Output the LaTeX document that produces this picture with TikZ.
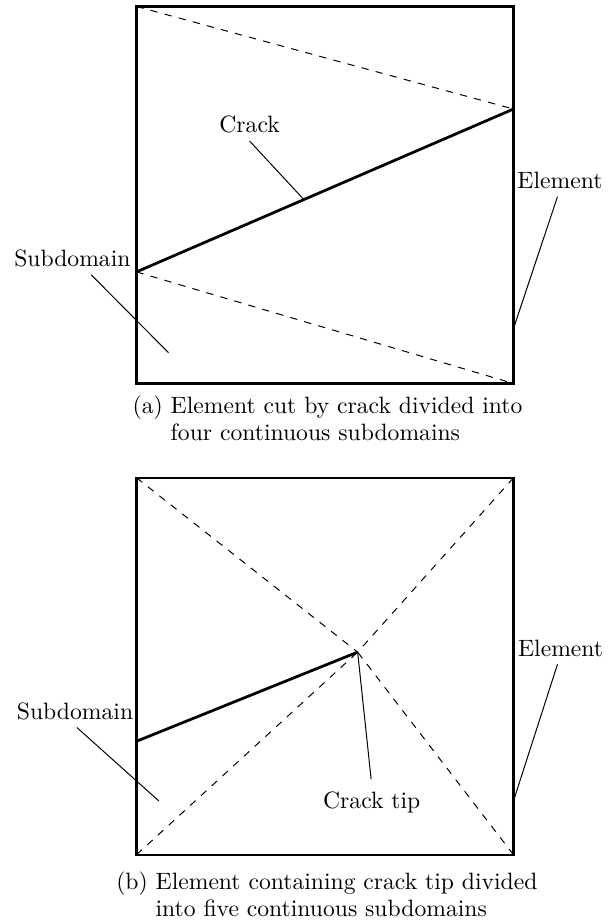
\documentclass[tikz,border=0pt]{standalone}
\usepackage{amsmath,amssymb}
\usepackage{tikz}
\usetikzlibrary{positioning, calc}

\begin{document}
\begin{tikzpicture}[font=\fontsize{10.7}{12.1}\selectfont, elemline/.style={line width=1.05pt}, crackline/.style={line width=1.25pt}, cutline/.style={dash pattern=on 3.3pt off 3.3pt, line width=0.45pt}, leader/.style={line width=0.45pt}]
    \useasboundingbox (-2.172,-8.57) rectangle (7.584,6.103);

    % (a) element cut by the crack
    \coordinate (a1) at (0,0);
    \coordinate (a2) at (6,0);
    \coordinate (a3) at (6,6);
    \coordinate (a4) at (0,6);
    \coordinate (cl) at (0,1.776);
    \coordinate (cr) at (6,4.368);
    \draw [cutline] (a4) -- (cr);
    \draw [cutline] (cl) -- (a2);
    \draw [crackline] (cl) -- (cr);
    \draw [elemline] (a1) -- (a2) -- (a3) -- (a4) -- cycle;

    \node (crackA) at (1.80,4.12) {Crack};
    \node (subA) at (-1.02,1.99) {Subdomain};
    \node (elemA) at (6.74,3.23) {Element};
    \coordinate (subAend) at (0.51,0.49);
    \coordinate (elemAend) at (6,0.876);
    \draw [leader] (crackA.south) -- ($(cl)!0.444!(cr)$);
    \draw [leader] ([xshift=0.3cm]subA.south) -- (subAend);
    \draw [leader] ([xshift=-0.04cm]elemA.south) -- (elemAend);

    \node (capA) [align=left] at (3.04,-0.557) {(a) Element cut by crack divided into\\\hphantom{(a)\ }four continuous subdomains};

    % (b) element containing the crack tip
    \coordinate (b1) at (0,-7.5);
    \coordinate (b2) at (6,-7.5);
    \coordinate (b3) at (6,-1.5);
    \coordinate (b4) at (0,-1.5);
    \coordinate (tip) at (3.52,-4.275);
    \coordinate (bl) at (0,-5.694);
    \foreach \c in {b1,b2,b3,b4}
        \draw [cutline] (\c) -- (tip);
    \draw [crackline] (bl) -- (tip);
    \draw [elemline] (b1) -- (b2) -- (b3) -- (b4) -- cycle;

    \node (tipB) at (3.744,-6.66) {Crack tip};
    \node (subB) at (-0.978,-5.214) {Subdomain};
    \node (elemB) at (6.75,-4.212) {Element};
    \coordinate (subBend) at (0.354,-6.642);
    \coordinate (elemBend) at (6,-6.642);
    \draw [leader] (tip) -- ([xshift=-0.01cm, yshift=2pt]tipB.north);
    \draw [leader] ([xshift=0.03cm]subB.south) -- (subBend);
    \draw [leader] ([xshift=-0.05cm]elemB.south) -- (elemBend);

    \node (capB) [align=left] at (3.03,-8.133) {(b) Element containing crack tip divided\\\hphantom{(b)\ }into five continuous subdomains};
\end{tikzpicture}
\end{document}
